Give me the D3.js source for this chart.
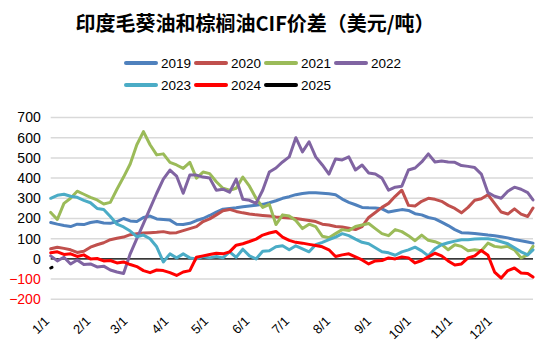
<!DOCTYPE html>
<html><head><meta charset="utf-8">
<script src="https://cdn.jsdelivr.net/npm/d3@7"></script>
<style>
html,body{margin:0;padding:0;background:#fff;}
text{font-family:"Liberation Sans",Arial,"Noto Sans CJK SC",sans-serif;}
</style></head>
<body><svg id="c" width="550" height="356"></svg>
<script>
const title = "印度毛葵油和棕榈油CIF价差（美元/吨）";
const years = ["2019","2020","2021","2022","2023","2024","2025"];
const colors = ["#4F81BD","#C0504D","#9BBB59","#8064A2","#4BACC6","#FF0000","#000000"];
const yTicks = [700,600,500,400,300,200,100,0,-100,-200];
const xTickLabels = ["1/1","2/1","3/1","4/1","5/1","6/1","7/1","8/1","9/1","10/1","11/1","12/1"];
// day of year (0 = Jan 1)
const days = [0,5,10,15,20,25,30,35,40,45,50,55,60,65,70,75,80,85,90,95,100,105,110,115,120,125,130,135,140,145,150,155,160,165,170,175,180,185,190,195,200,205,210,215,220,225,230,235,240,245,250,255,260,265,270,275,280,285,290,295,300,305,310,315,320,325,330,335,340,345,350,355,360,364];
const s2019 = [180,172,165,160,172,170,180,185,178,176,185,200,188,185,205,212,198,195,192,172,170,176,190,200,215,232,246,250,253,258,262,266,270,278,288,300,308,318,324,328,327,325,322,318,296,280,268,255,253,252,248,232,238,244,240,224,218,205,198,182,165,145,130,128,126,122,118,115,110,104,96,90,84,78];
const s2020 = [50,58,52,45,32,38,58,70,80,95,102,108,120,125,128,130,132,135,128,130,140,150,160,185,198,218,238,245,235,228,222,218,215,212,208,205,203,200,195,190,185,172,168,160,158,152,145,160,205,230,255,275,310,340,265,262,285,300,295,285,265,250,228,255,290,298,318,275,232,222,248,222,210,252];
const s2021 = [230,195,275,300,335,320,305,292,272,280,345,405,470,565,630,565,515,520,478,465,448,478,400,430,422,382,350,340,350,405,360,300,255,270,170,218,212,190,150,172,160,112,105,125,145,140,160,168,175,150,125,115,145,135,115,90,118,92,85,72,45,70,62,40,45,40,78,62,58,62,45,5,20,62];
const s2022 = [15,-10,8,-25,-5,-28,-25,-40,-36,-55,-65,-72,25,100,175,250,325,395,440,410,325,415,415,405,400,340,345,330,395,295,290,275,340,430,450,480,505,600,530,580,505,465,420,495,490,505,440,465,425,420,400,340,355,360,440,450,480,520,480,485,480,478,462,458,452,420,328,310,300,335,355,345,328,292];
const s2023 = [300,315,320,310,305,290,278,250,245,210,172,158,138,110,118,100,60,-15,25,5,25,5,0,12,5,12,5,35,8,48,15,0,38,40,60,65,45,65,50,35,70,82,95,108,125,115,98,82,75,55,35,30,18,35,45,58,40,15,50,70,80,88,95,95,98,100,100,95,85,75,55,35,20,45];
const s2024 = [30,35,22,25,12,20,0,2,-10,-8,-20,-15,-28,-38,-58,-68,-55,-58,-68,-82,-65,-58,8,15,22,28,25,35,68,75,86,98,118,128,136,108,92,82,78,72,66,60,45,12,20,25,10,-5,-25,-10,-8,5,0,10,5,-20,-8,10,28,15,-10,-30,-25,5,15,42,18,-65,-95,-58,-45,-70,-72,-90];
const days2025 = [0,1];
const s2025 = [-45,-42];
const seriesValues = [s2019,s2020,s2021,s2022,s2023,s2024,s2025];
const seriesDays = [days,days,days,days,days,days,days2025];

const svg = d3.select("#c");
const base = new Date(2019,0,1);
const toDate = d => d3.timeDay.offset(base, d);
const x = d3.scaleTime().domain([base, new Date(2019,11,31)]).range([50.7, 533]);
const y = d3.scaleLinear().domain([-200,700]).range([299.3,117.5]);

// title
svg.append("text").attr("x",255).attr("y",31).attr("text-anchor","middle")
  .style("font-family","'Noto Sans CJK SC','Liberation Sans',sans-serif")
  .attr("font-size",20).attr("font-weight","bold").attr("fill","#000").text(title);

// gridlines
svg.append("g").selectAll("line").data(yTicks).join("line")
  .attr("x1",50.7).attr("x2",533).attr("y1",d=>y(d)).attr("y2",d=>y(d))
  .attr("stroke","#d9d9d9").attr("stroke-width",1.5);

// y axis labels
const yAxis = d3.axisLeft(y).tickValues(yTicks).tickSize(0).tickPadding(10);
const gy = svg.append("g").attr("transform","translate(50.7,0)").call(yAxis);
gy.select(".domain").remove();
gy.selectAll("text").attr("font-size",14).style("font-family","'Liberation Sans',Arial,sans-serif")
  .attr("fill",d=>d<0?"#FF0000":"#000");

// x axis labels
const monthDates = xTickLabels.map((l,i)=>new Date(2019,i,1));
const xAxis = d3.axisBottom(x).tickValues(monthDates).tickSize(0).tickFormat((d,i)=>xTickLabels[i]);
const gx = svg.append("g").attr("transform","translate(0,300)").call(xAxis);
gx.select(".domain").remove();
gx.selectAll(".tick text").attr("font-size",13).attr("fill","#000")
  .style("font-family","'Liberation Sans',Arial,sans-serif")
  .attr("text-anchor","end").attr("dy",0).attr("y",0)
  .attr("transform","translate(-1,22) rotate(-45)");

// zero line
svg.append("line").attr("x1",50.7).attr("x2",533).attr("y1",y(0)).attr("y2",y(0))
  .attr("stroke","#000").attr("stroke-width",1.2);

// series
const line = d3.line().x(p=>x(toDate(p[0]))).y(p=>y(p[1]));
seriesValues.forEach((vals,i)=>{
  const pts = seriesDays[i].map((d,j)=>[d, vals[j]]);
  svg.append("path").datum(pts).attr("d",line).attr("fill","none")
    .attr("stroke",colors[i]).attr("stroke-width",3)
    .attr("stroke-linejoin","round").attr("stroke-linecap","round");
});

// legend
const lg = svg.append("g");
years.forEach((yr,i)=>{
  const row = i<4?0:1, col = i<4?i:i-4;
  const lx = 125 + col*70, ly = 63 + row*22;
  lg.append("line").attr("x1",lx+1).attr("x2",lx+31).attr("y1",ly).attr("y2",ly)
    .attr("stroke",colors[i]).attr("stroke-width",4).attr("stroke-linecap","round");
  lg.append("text").attr("x",lx+36).attr("y",ly+4.8).attr("font-size",13.5)
    .style("font-family","'Liberation Sans',Arial,sans-serif").attr("fill","#000").text(yr);
});
</script></body></html>
